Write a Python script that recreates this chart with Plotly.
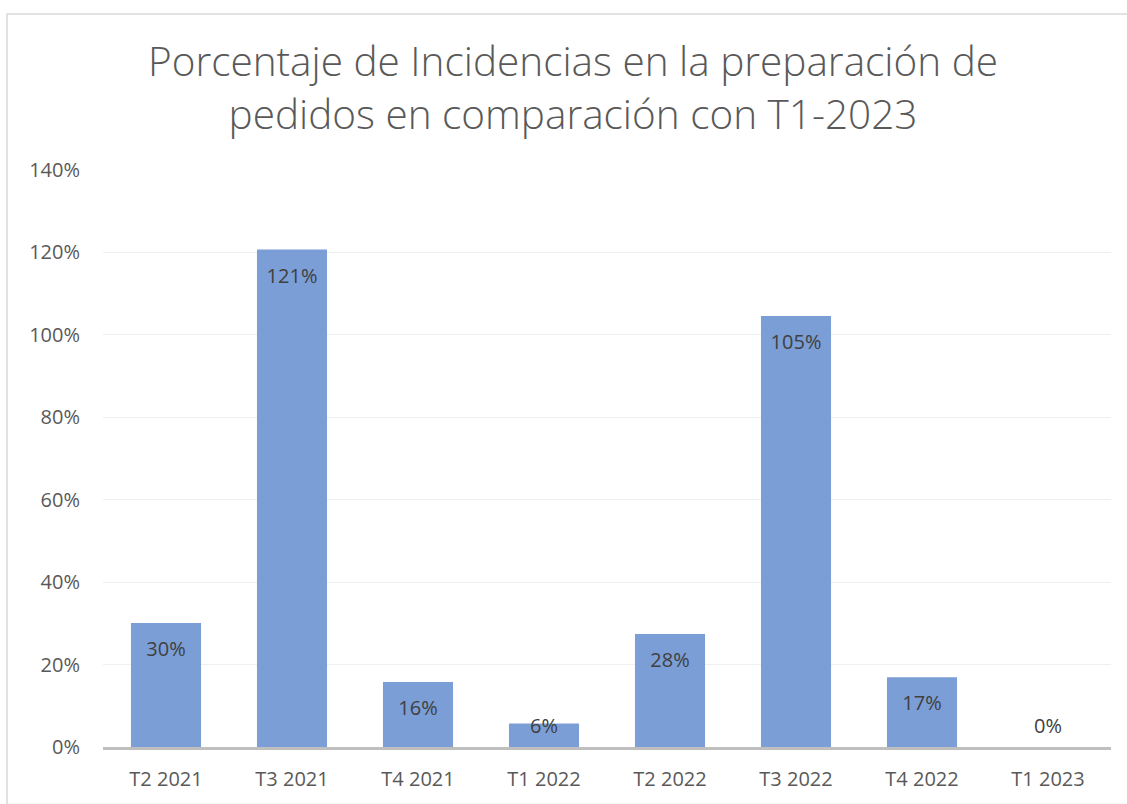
import plotly.graph_objects as go

categories = ["T2 2021", "T3 2021", "T4 2021", "T1 2022", "T2 2022", "T3 2022", "T4 2022", "T1 2023"]
values = [30.1, 120.7, 15.8, 5.7, 27.4, 104.6, 16.9, 0.0]
labels = ["30%", "121%", "16%", "6%", "28%", "105%", "17%", "0%"]
y_ticks = [0, 20, 40, 60, 80, 100, 120, 140]
y_tick_labels = ["0%", "20%", "40%", "60%", "80%", "100%", "120%", "140%"]

W, H = 1127, 804
ml, mr, mt, mb = 103, 16, 170, 53
pw, ph = W - ml - mr, H - mt - mb

label_y = [max(v - 6.8, 4.7) for v in values]

fig = go.Figure()
fig.add_trace(go.Bar(
    x=categories, y=values,
    marker=dict(color="#7B9ED6", line=dict(width=0)),
    hoverinfo="skip",
))
fig.add_trace(go.Scatter(
    x=categories, y=label_y, mode="text", text=labels,
    textposition="middle center",
    textfont=dict(family="Open Sans", size=20, color="#404040"),
    hoverinfo="skip",
))

fig.update_layout(
    width=W, height=H,
    margin=dict(l=ml, r=mr, t=mt, b=mb),
    paper_bgcolor="white", plot_bgcolor="white",
    showlegend=False,
    bargap=0.444,
    title=dict(
        text="Porcentaje de Incidencias en la preparación de<br>pedidos en comparación con T1-2023",
        x=573 / W, xanchor="center",
        y=1 - 76 / H, yanchor="middle",
        font=dict(family="Open Sans", size=40.5, color="#595959", weight=300),
    ),
    xaxis=dict(
        tickfont=dict(family="Open Sans", size=20, color="#595959"),
        showgrid=False, showline=True, linecolor="#BFBFBF", linewidth=3,
        ticks="", ticklabelstandoff=12,
    ),
    yaxis=dict(
        range=[0, 140], tickvals=y_ticks, ticktext=y_tick_labels,
        tickfont=dict(family="Open Sans", size=20, color="#595959"),
        showgrid=True, gridcolor="#EFEFEF", gridwidth=1,
        zeroline=False, showline=False, ticks="", ticklabelstandoff=22,
    ),
    shapes=[dict(
        type="rect", xref="paper", yref="paper",
        x0=(7 - ml) / pw, x1=(W + 5 - ml) / pw,
        y0=-(H + 5 - (H - mb)) / ph, y1=1 + (mt - 13) / ph,
        line=dict(color="#D9D9D9", width=1.5), layer="below",
    )],
)

fig.write_html(
    "out.html",
    config={"displayModeBar": False},
    post_script="document.body.style.margin='0';document.body.style.overflow='hidden';",
)
